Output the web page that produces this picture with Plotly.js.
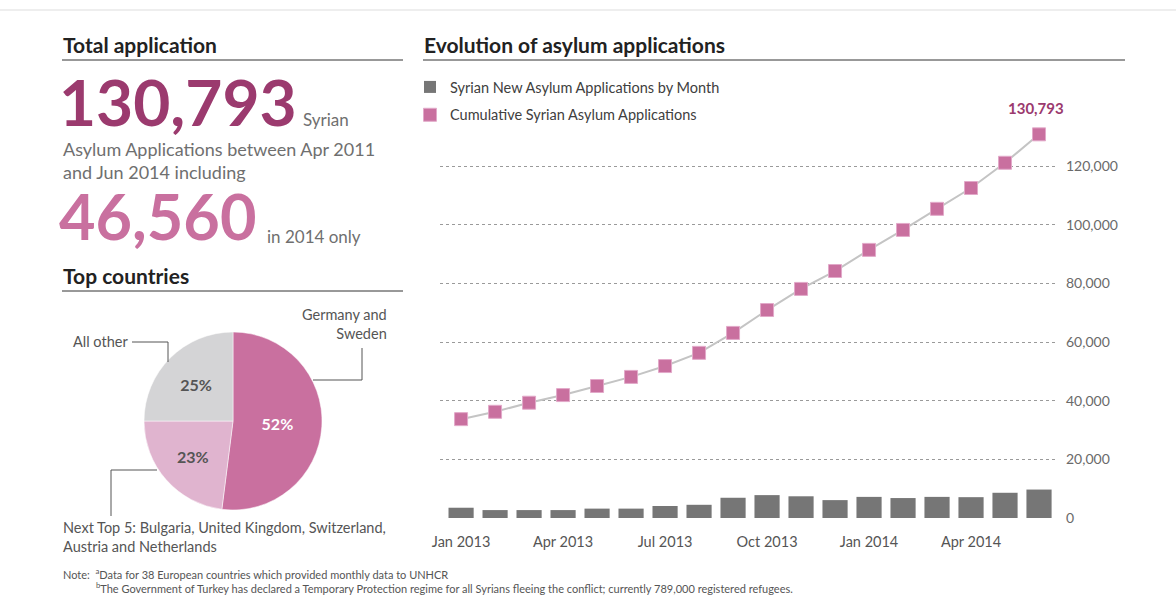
<!DOCTYPE html>
<html>
<head>
<meta charset="utf-8">
<script src="https://cdn.plot.ly/plotly-3.0.1.min.js"></script>
<style>
  html, body { margin: 0; padding: 0; background: #fff; }
  #chart { width: 1176px; height: 596px; }
</style>
</head>
<body>
<div id="chart"></div>
<script>
// ---------- data ----------
const months = ['Jan 2013','Feb 2013','Mar 2013','Apr 2013','May 2013','Jun 2013','Jul 2013','Aug 2013','Sep 2013','Oct 2013','Nov 2013','Dec 2013','Jan 2014','Feb 2014','Mar 2014','Apr 2014','May 2014','Jun 2014'];
const monthlyNew = [3500, 2700, 2700, 2700, 3200, 3200, 4100, 4500, 6900, 7800, 7400, 6100, 7200, 6800, 7200, 7100, 8600, 9700];
const cumulative = [33700, 36200, 39300, 41900, 45000, 48100, 51800, 56300, 63100, 70900, 78100, 84200, 91400, 98200, 105400, 112500, 121100, 130793];
const xTickLabels = ['Jan 2013','Apr 2013','Jul 2013','Oct 2013','Jan 2014','Apr 2014'];
const yTickValues = [0, 20000, 40000, 60000, 80000, 100000, 120000];
const seriesNames = ['Syrian New Asylum Applications by Month', 'Cumulative Syrian Asylum Applications'];
const pieLabels = ['Germany and<br>Sweden', 'Next Top 5: Bulgaria, United Kingdom, Switzerland,<br>Austria and Netherlands', 'All other'];
const pieShares = [52, 23, 25];
const totalApplications = 130793;
const applications2014 = 46560;

// ---------- helpers ----------
const W = 1176, H = 596;
const px = x => x / W;
const py = y => 1 - y / H;
const FONT = 'Lato, "Open Sans", sans-serif';
const fmt = v => v.toLocaleString('en-US');
const GREY_TXT = '#6f6f6f';
const PINK = '#c9709f';
const DARK_PINK = '#9b3a6e';

function ann(text, x, y, size, color, opts) {
  opts = opts || {};
  return Object.assign({
    text: text, xref: 'paper', yref: 'paper', x: px(x), y: py(y),
    xanchor: 'left', yanchor: 'middle', showarrow: false,
    font: { family: FONT, size: size, color: color }, align: 'left'
  }, opts);
}
function seg(x0, y0, x1, y1, color, width) {
  return { type: 'line', xref: 'paper', yref: 'paper', x0: px(x0), y0: py(y0), x1: px(x1), y1: py(y1),
           line: { color: color, width: width } };
}

// ---------- traces ----------
const barTrace = {
  type: 'bar', x: months, y: monthlyNew, name: seriesNames[0], legendgroup: 'a',
  marker: { color: '#767676' }, hoverinfo: 'x+y'
};
const lineTrace = {
  type: 'scatter', mode: 'lines', x: months, y: cumulative, showlegend: false,
  line: { color: '#c4c4c4', width: 2 }, hoverinfo: 'skip'
};
const markerTrace = {
  type: 'scatter', mode: 'markers', x: months, y: cumulative, name: seriesNames[1], legendgroup: 'b',
  marker: { symbol: 'square', size: 13, color: PINK, line: { color: '#e2a9c9', width: 1 } },
  cliponaxis: false
};
const pieTrace = {
  type: 'pie', labels: pieLabels, values: pieShares, sort: false, direction: 'clockwise', rotation: 0,
  domain: { x: [px(144), px(322)], y: [py(510), py(332)] },
  marker: { colors: [PINK, '#e0b4cf', '#d4d4d6'], line: { color: '#ffffff', width: 0.5 } },
  textinfo: 'percent', textposition: 'inside', insidetextorientation: 'horizontal',
  textfont: { family: FONT, size: 16, color: ['#ffffff', '#555555', '#555555'], weight: 'bold' },
  showlegend: false, automargin: false, hoverinfo: 'label+percent'
};

// ---------- layout ----------
const annotations = [
  ann('<b>Total application</b>', 61, 44, 21, '#222'),
  ann('<b>Evolution of asylum applications</b>', 422, 44, 21, '#222'),
  ann('<b>' + fmt(totalApplications) + '</b>', 57, 101, 64, DARK_PINK),
  ann('Syrian', 301, 120, 17, GREY_TXT),
  ann('Asylum Applications between Apr 2011<br>and Jun 2014 including', 61, 160, 18, GREY_TXT),
  ann('<b>' + fmt(applications2014) + '</b>', 57, 215, 63, PINK),
  ann('in 2014 only', 265, 236, 17, GREY_TXT),
  ann('<b>Top countries</b>', 61, 275, 21, '#222'),
  ann(pieLabels[0], 389, 324, 14.5, '#555', { xanchor: 'right', align: 'right' }),
  ann(pieLabels[2], 130, 341, 14.5, '#555', { xanchor: 'right', align: 'right' }),
  ann(pieLabels[1], 61, 537, 14.5, '#555'),
  ann('Note:  <sup>a</sup>Data for 38 European countries which provided monthly data to UNHCR', 61, 573, 11, '#555'),
  ann('<sup>b</sup>The Government of Turkey has declared a Temporary Protection regime for all Syrians fleeing the conflict; currently 789,000 registered refugees.', 94, 587, 11, '#555'),
  {
    text: '<b>' + fmt(cumulative[cumulative.length - 1]) + '</b>', x: months[months.length - 1], y: cumulative[cumulative.length - 1],
    xref: 'x', yref: 'y', showarrow: false, yshift: 26, xshift: -3, yanchor: 'middle',
    font: { family: FONT, size: 15, color: DARK_PINK }
  }
];

const shapes = [
  seg(0, 10, W, 10, '#e8e8e8', 1.5),
  seg(62, 60, 403, 60, '#333', 1),
  seg(423, 60, 1125, 60, '#333', 1),
  seg(62, 291, 403, 291, '#333', 1),
  // leader lines
  seg(132, 342, 168, 342, '#555', 1), seg(168, 342, 168, 362, '#555', 1),
  seg(362, 348, 362, 380, '#555', 1), seg(362, 380, 313, 380, '#555', 1),
  seg(111, 516, 111, 470, '#555', 1), seg(111, 470, 157, 470, '#555', 1)
];

const layout = {
  width: W, height: H, margin: { l: 0, r: 0, t: 0, b: 0 },
  paper_bgcolor: '#fff', plot_bgcolor: 'rgba(0,0,0,0)',
  font: { family: FONT, color: '#555' },
  showlegend: true,
  legend: {
    x: px(410), y: py(71), xanchor: 'left', yanchor: 'top',
    font: { family: FONT, size: 14.5, color: '#404040' },
    traceorder: 'grouped', tracegroupgap: 6, itemwidth: 30, bgcolor: 'rgba(0,0,0,0)'
  },
  bargap: 0.26,
  xaxis: {
    domain: [px(440), px(1055)], type: 'category', range: [-0.62, 17.47],
    tickmode: 'array', tickvals: xTickLabels, ticktext: xTickLabels,
    showgrid: false, showline: false, zeroline: false, ticks: '',
    tickfont: { family: FONT, size: 14.5, color: '#555' }, ticklabelstandoff: 13, fixedrange: true
  },
  yaxis: {
    domain: [py(518), py(78)], range: [0, 150000], side: 'right',
    tickmode: 'array', tickvals: yTickValues, tickformat: ',d',
    showgrid: true, gridcolor: '#9a9a9a', griddash: 'dot', gridwidth: 1,
    zeroline: false, showline: false, ticks: '',
    tickfont: { family: FONT, size: 14, color: '#6a6a6a' }, ticklabelstandoff: 10, fixedrange: true
  },
  annotations: annotations,
  shapes: shapes
};

Plotly.newPlot('chart', [barTrace, lineTrace, markerTrace, pieTrace], layout, { displayModeBar: false });
</script>
</body>
</html>
